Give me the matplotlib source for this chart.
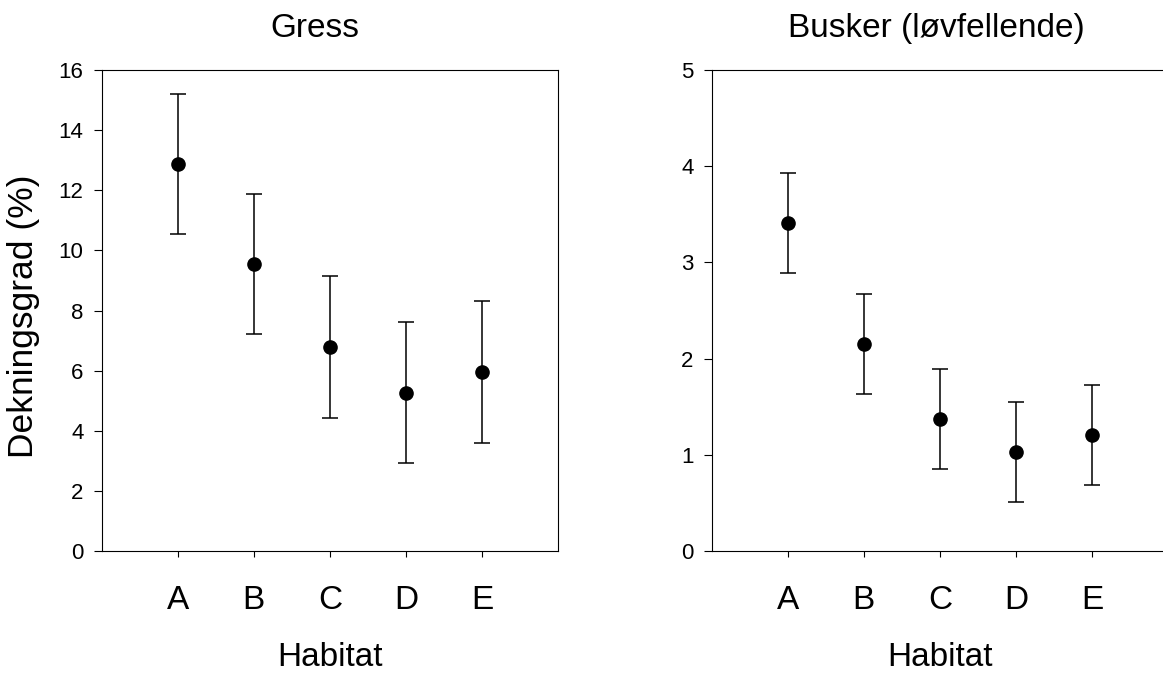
import matplotlib
matplotlib.use('Agg')
import matplotlib.pyplot as plt

plt.rcParams['font.family'] = ['Liberation Sans', 'DejaVu Sans']

habitats = ['A', 'B', 'C', 'D', 'E']
gress_mean = [12.87, 9.55, 6.78, 5.27, 5.96]
gress_err = [2.33, 2.34, 2.36, 2.35, 2.36]
busker_mean = [3.41, 2.15, 1.375, 1.033, 1.209]
busker_err = [0.52, 0.52, 0.52, 0.52, 0.52]

fig = plt.figure(figsize=(11.63, 6.74), dpi=100)
ax1 = fig.add_axes([0.0874, 0.1825, 0.3926, 0.7136])
ax2 = fig.add_axes([0.6118, 0.1825, 0.3926, 0.7136])


def draw_panel(ax, means, errs, title, ymax, yticks, title_x):
    x = range(1, len(habitats) + 1)
    ax.errorbar(x, means, yerr=errs, fmt='o', color='black', ms=9.5,
                elinewidth=1.1, capsize=6, capthick=1.1, clip_on=False)
    ax.set_xlim(0, 6)
    ax.set_ylim(0, ymax)
    ax.set_xticks(list(x))
    ax.set_xticklabels(habitats, fontsize=24)
    ax.set_yticks(yticks)
    ax.tick_params(axis='x', direction='out', length=4.5, width=0.8, pad=20)
    ax.tick_params(axis='y', direction='out', length=6, width=0.8, pad=7,
                   labelsize=16)
    for s in ax.spines.values():
        s.set_linewidth(0.8)
    ax.set_xlabel('Habitat', fontsize=24, labelpad=19)
    ax.set_title(title, fontsize=24, pad=24, x=title_x)


draw_panel(ax1, gress_mean, gress_err, 'Gress', 16, range(0, 17, 2), 0.468)
ax1.set_ylabel('Dekningsgrad (%)', fontsize=25.5)
ax1.yaxis.set_label_coords(-0.135, 0.488)
draw_panel(ax2, busker_mean, busker_err, 'Busker (løvfellende)', 5,
           range(0, 6), 0.492)

fig.savefig('out.png', dpi=100)
